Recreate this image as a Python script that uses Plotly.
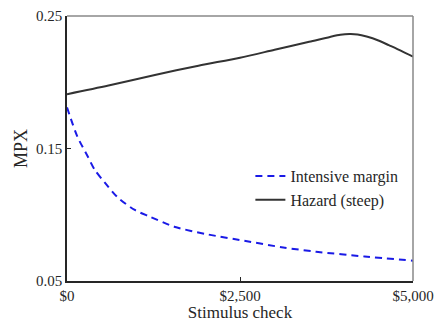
import plotly.graph_objects as go

x_int = [0, 150, 300, 400, 550, 735, 980, 1200, 1550, 2000, 2640, 3100, 3600, 4300, 5000]
y_int = [0.181, 0.159, 0.144, 0.134, 0.124, 0.113, 0.1036, 0.0985, 0.091, 0.0855, 0.0797, 0.0755, 0.0721, 0.0685, 0.0653]

x_haz = [0, 600, 1270, 1900, 2500, 3000, 3500, 3800, 3950, 4080, 4200, 4330, 4500, 4650, 4830, 5000]
y_haz = [0.191, 0.1975, 0.2055, 0.2125, 0.2185, 0.2245, 0.2305, 0.2342, 0.2358, 0.2364, 0.2361, 0.2345, 0.2315, 0.228, 0.2237, 0.2193]

x_ticks = [0, 2500, 5000]
x_ticklabels = ["$0", "$2,500", "$5,000"]
y_ticks = [0.05, 0.15, 0.25]
y_ticklabels = ["0.05", "0.15", "0.25"]

font_family = "Liberation Serif"

fig = go.Figure()
fig.add_trace(go.Scatter(x=x_int, y=y_int, mode="lines", name="Intensive margin",
                         line=dict(color="#1a1ae6", width=2, dash="7px,5px", shape="spline", smoothing=0.8)))
fig.add_trace(go.Scatter(x=x_haz, y=y_haz, mode="lines", name="Hazard (steep)",
                         line=dict(color="#333333", width=2, shape="spline", smoothing=0.8)))

fig.update_layout(
    width=436, height=322,
    margin=dict(l=67, r=23, t=16, b=41),
    paper_bgcolor="white", plot_bgcolor="white",
    font=dict(family=font_family, size=15, color="#262626"),
    showlegend=True,
    legend=dict(x=0.53, y=0.46, xanchor="left", yanchor="top",
                bgcolor="rgba(0,0,0,0)", font=dict(size=16, family=font_family),
                tracegroupgap=0, itemwidth=30),
    xaxis=dict(range=[0, 5000], tickvals=x_ticks, ticktext=x_ticklabels, automargin=False,
               ticklabeloverflow="allow",
               showgrid=False, zeroline=False, showline=True, linecolor="#262626", linewidth=1.5,
               ticks="inside", ticklen=4, tickcolor="#262626",
               title=dict(text="Stimulus check", standoff=3, font=dict(size=17))),
    yaxis=dict(range=[0.05, 0.25], tickvals=y_ticks, ticktext=y_ticklabels, automargin=False,
               ticklabeloverflow="allow",
               showgrid=False, zeroline=False, showline=True, linecolor="#262626", linewidth=1.5,
               ticks="inside", ticklen=4, tickcolor="#262626",
               title=dict(text="MPX", standoff=4, font=dict(size=18))),
)
fig.add_shape(type="line", xref="paper", yref="paper", x0=0, x1=1, y0=1, y1=1,
              line=dict(color="#888888", width=1.5))
fig.add_shape(type="line", xref="paper", yref="paper", x0=1, x1=1, y0=0, y1=1,
              line=dict(color="#888888", width=1.5))

fig.write_html("out.html")
